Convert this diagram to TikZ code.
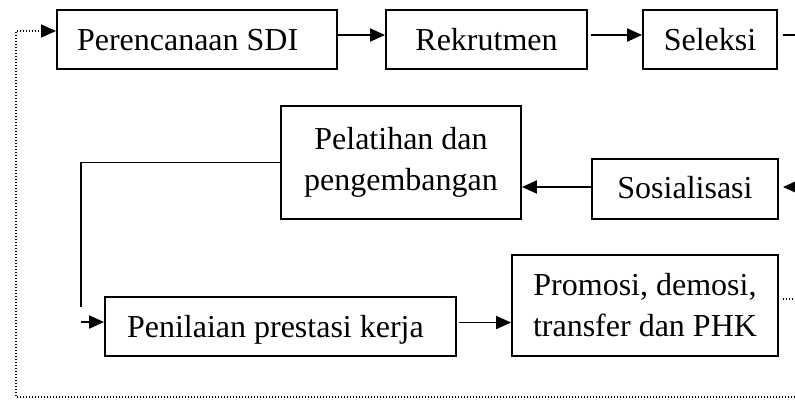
\documentclass[tikz,border=0pt]{standalone}
\usepackage{fontspec}
\setmainfont{Liberation Serif}
\usetikzlibrary{arrows.meta}

\begin{document}
\begin{tikzpicture}[x=1pt,y=-1pt,
    kotak/.style={draw, line width=1.9pt, inner ysep=0pt, inner xsep=0pt,
      font=\fontsize{32}{41}\selectfont},
    satu/.style={kotak, text height=40pt, text depth=19pt},
    garis/.style={line width=1.9pt},
    titik/.style={line width=1.4pt, dash pattern=on 1.4pt off 1.6pt},
    >={Triangle[length=15pt,width=13pt]}]
\useasboundingbox (0,0) rectangle (795,405);

% baris atas
\node[satu, inner xsep=20pt, text width=240pt, align=flush left] (rencana) at (197,39.5) {Perencanaan SDI};
\node[satu, minimum width=201pt] (rekrut) at (486.5,39.5) {Rekrutmen};
\node[satu, minimum width=134pt] (seleksi) at (710,39.5) {Seleksi};

% baris tengah
\node[kotak, minimum width=240pt, minimum height=113pt, align=center] (latih) at (401,162.5) {Pelatihan dan\\pengembangan};
\node[kotak, text height=39pt, text depth=21pt, minimum width=186pt] (sosial) at (685,189) {Sosialisasi};

% baris bawah
\node[satu, inner xsep=22pt, text width=307pt, align=flush left] (nilai) at (280.5,326.5) {Penilaian prestasi kerja};
\node[kotak, minimum width=266pt, minimum height=101pt, align=center] (promosi) at (645,305.5) {Promosi, demosi,\\transfer dan PHK};

\coordinate (kananA) at (795,35);
\coordinate (kananB) at (795,187);
\coordinate (kananC) at (795,299);
\coordinate (kananD) at (795,397);
\coordinate (kiriA) at (16,397);
\coordinate (kiriB) at (16,31);
\coordinate (belok) at (81,307);
\coordinate (masuk) at (81,322);

\draw[garis,->] ([yshift=4.5pt]rencana.east) -- ([yshift=4.5pt]rekrut.west);
\draw[garis,->] ([xshift=3pt,yshift=4.5pt]rekrut.east) -- ([yshift=4.5pt]seleksi.west);
\draw[garis] ([xshift=5pt,yshift=4.5pt]seleksi.east) -- (kananA);
\draw[garis,->,shorten >=4pt] (kananB) -- (kananB -| sosial.east);
\draw[garis,->] (kananB -| sosial.west) -- (kananB -| latih.east);
\draw[garis] (latih.west) -- (latih.west -| belok) -- (belok);
\draw[garis,->] (masuk) -- (masuk -| nilai.west);
\draw[garis,->] ([xshift=2pt,yshift=4pt]nilai.east) -- ([yshift=4pt]nilai.east -| promosi.west);
% umpan balik
\draw[titik] ([xshift=4pt]promosi.east |- kananC) -- (kananC);
\draw[titik,->] (kananD) -- (kiriA) -- (kiriB) -- (kiriB -| rencana.west);
\end{tikzpicture}
\end{document}
